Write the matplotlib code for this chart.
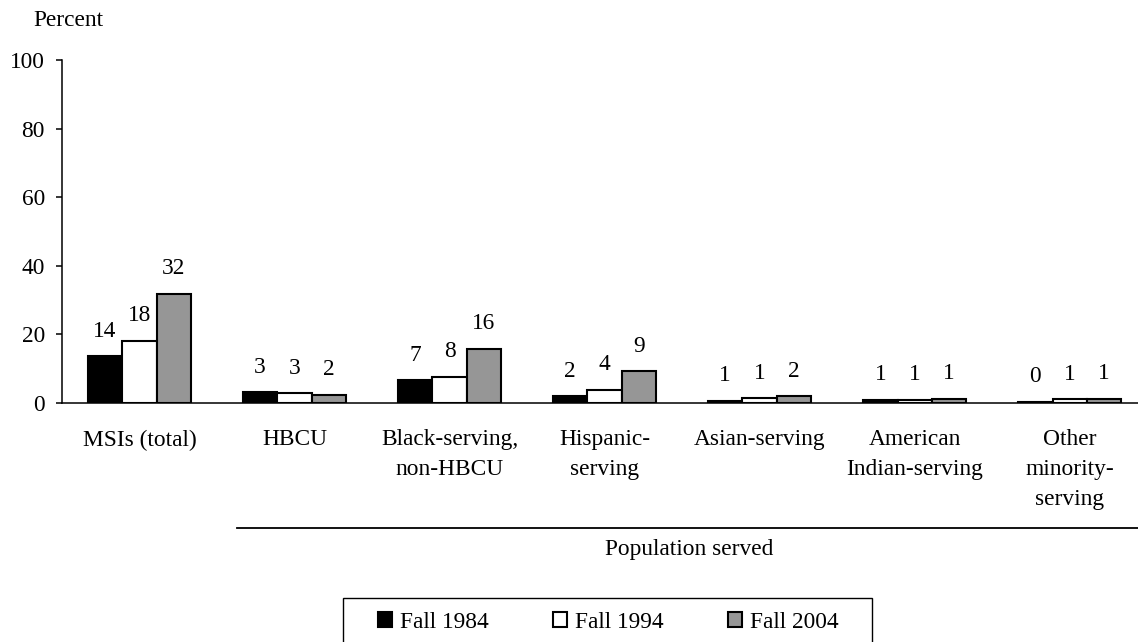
import matplotlib.pyplot as plt
from matplotlib.lines import Line2D
from matplotlib.patches import Rectangle
import numpy as np

plt.rcParams['font.family'] = ['Liberation Serif', 'DejaVu Serif']
plt.rcParams['font.size'] = 16.8

categories = ["MSIs (total)", "HBCU", "Black-serving,\nnon-HBCU", "Hispanic-\nserving",
              "Asian-serving", "American\nIndian-serving", "Other\nminority-\nserving"]
series = ["Fall 1984", "Fall 1994", "Fall 2004"]
fall_1984 = [13.6, 3.2, 6.6, 2.0, 0.6, 0.9, 0.4]
fall_1994 = [18.2, 2.9, 7.6, 3.8, 1.4, 1.0, 1.1]
fall_2004 = [31.8, 2.4, 15.8, 9.2, 1.9, 1.2, 1.2]
colors = ["black", "white", "#969696"]

fig = plt.figure(figsize=(11.38, 6.42), dpi=100)
ax = fig.add_axes([62 / 1138, 1 - 403 / 642, 1 - 62 / 1138, (403 - 60) / 642])

x = np.arange(len(categories))
width = 0.222
for i, (vals, col, name) in enumerate(zip([fall_1984, fall_1994, fall_2004], colors, series)):
    bars = ax.bar(x + (i - 1) * width, vals, width, color=col, edgecolor="black",
                  linewidth=1.5, label=name)
    for b, v in zip(bars, vals):
        ax.annotate(f"{v:.0f}", (b.get_x() + b.get_width() / 2, v), xytext=(0, 18),
                    textcoords="offset points", ha="center", va="center")

ax.set_xlim(-0.5, 6.44)
ax.set_ylim(0, 100)
ax.set_yticks([0, 20, 40, 60, 80, 100])
ax.set_xticks(x, categories, linespacing=1.55)
ax.tick_params(axis="x", length=0, pad=19)
ax.tick_params(axis="y", length=4.3, width=1.1, pad=8)
for s in ["top", "right"]:
    ax.spines[s].set_visible(False)
for s in ["left", "bottom"]:
    ax.spines[s].set_linewidth(1.1)

fig.text(33 / 1138, 1 - 20 / 642, "Percent", ha="left", va="center")

fig.add_artist(Line2D([237 / 1138, 1], [1 - 528 / 642] * 2, color="black", linewidth=1.3))
fig.text(689 / 1138, 1 - 550 / 642, "Population served", ha="center", va="center")

# legend box runs off the bottom of the figure, as in the original
fig.add_artist(Rectangle((343 / 1138, -0.02), (872 - 343) / 1138, 1 - 598 / 642 + 0.02,
                         transform=fig.transFigure, fill=False, edgecolor="black",
                         linewidth=1.0))
fig.legend(loc="center", bbox_to_anchor=(608 / 1138, 1 - 622 / 642), ncol=3,
           frameon=False, handlelength=0.6, handleheight=0.6, handletextpad=0.35,
           columnspacing=2.75, borderpad=0, borderaxespad=0)

fig.savefig("out.png", dpi=100)
